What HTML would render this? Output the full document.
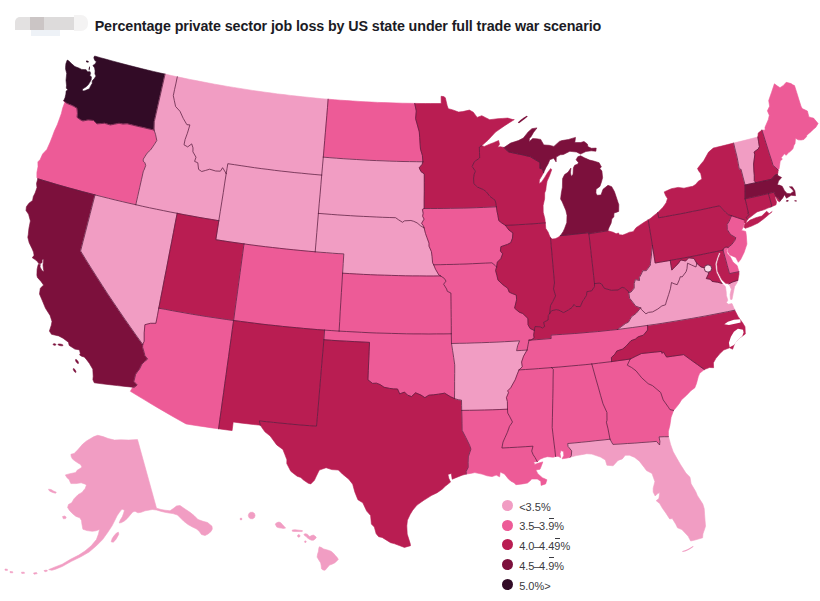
<!DOCTYPE html>
<html lang="en"><head><meta charset="utf-8"><title>Percentage private sector job loss by US state under full trade war scenario</title>
<style>
html,body{margin:0;padding:0;background:#fff}
body{width:820px;height:601px;position:relative;overflow:hidden;font-family:"Liberation Sans",sans-serif}
svg{position:absolute;left:0;top:0}
.s{stroke-width:.6;stroke-linejoin:round}
.b{fill:none;stroke:#5b1d3f;stroke-width:.9;stroke-linejoin:round;stroke-linecap:round;opacity:.85}
h1{position:absolute;left:94.7px;top:17.4px;margin:0;font-size:14.3px;line-height:18px;font-weight:bold;color:#1b1b25;white-space:nowrap;letter-spacing:-.1px}
.blur{position:absolute;left:0;top:0;width:100px;height:40px;filter:blur(.7px)}
.blur u{position:absolute;display:block;text-decoration:none}
.lg{position:absolute;left:502px;top:495.5px;margin:0;padding:0;list-style:none;font-size:11px;color:#3a3a40}
.lg li{height:19.75px;line-height:22.6px;position:relative;padding-left:17.2px;white-space:nowrap}
.lg b{font-weight:normal;margin:0 -.8px}
.lg i{position:absolute;left:0;top:4.4px;width:11px;height:11px;border-radius:50%}
.ov{position:relative}
.ov::before{content:"";position:absolute;left:.5px;right:.5px;top:-2.5px;border-top:1px solid #3a3a40}
</style></head><body>
<div class="blur"><u style="left:74px;top:14.5px;width:14px;height:16px;background:#f4f3f3;border-radius:0 7px 7px 0"></u><u style="left:31px;top:30px;width:29px;height:5.5px;background:#eef2f7"></u><u style="left:14.8px;top:16.8px;width:15.6px;height:13.4px;background:#e3e1e1;border-radius:5px 0 0 0"></u><u style="left:30.2px;top:16.8px;width:14.2px;height:13.4px;background:#cbc5c5"></u><u style="left:44.3px;top:16.8px;width:30.2px;height:13.4px;background:#dddbdb"></u></div>
<h1>Percentage private sector job loss by US state under full trade war scenario</h1>
<svg width="820" height="601" viewBox="0 0 820 601">
<g><path class="s" d="M94.6,56.0 100.4,57.7 106.3,59.3 112.1,60.9 118.0,62.5 123.9,64.1 129.7,65.6 135.6,67.1 141.5,68.6 147.4,70.0 153.3,71.4 159.2,72.8 165.1,74.1 163.3,82.0 161.5,89.9 159.7,97.9 157.9,105.8 156.1,113.8 154.3,121.7 154.1,130.1 148.7,128.9 143.3,127.6 137.9,126.4 132.5,125.1 127.1,123.8 122.9,124.1 119.0,123.3 114.6,124.2 110.3,125.0 104.5,123.3 100.8,123.6 97.0,123.9 93.5,120.5 88.1,120.0 82.9,121.0 80.5,119.9 77.0,117.3 77.4,113.4 76.9,108.3 73.9,106.4 71.5,105.3 66.6,103.3 63.7,100.8 65.0,97.8 65.9,94.1 66.1,91.1 67.9,89.7 66.3,88.2 66.5,85.3 66.0,80.2 66.7,73.4 65.6,69.1 65.6,67.1 65.9,63.8 67.2,60.1 68.6,60.7 71.7,63.8 74.9,66.6 78.6,67.9 81.7,69.4 86.1,69.7 87.5,71.7 90.1,71.7 90.6,73.6 89.8,75.4 91.4,76.8 91.2,79.7 89.8,82.3 88.2,84.8 85.8,87.0 82.5,89.1 82.5,91.1 84.7,90.7 87.0,89.8 89.4,88.7 90.4,86.4 92.2,83.4 92.2,81.0 94.3,78.6 96.0,76.1 94.9,73.9 95.1,70.9 94.6,67.9 92.9,65.4 95.1,64.0 96.4,61.7 94.8,60.4 93.8,57.8 94.6,56.0Z" fill="#320b26" stroke="#320b26"/>
<path class="s" d="M63.7,100.8 66.6,103.3 71.5,105.3 73.9,106.4 76.9,108.3 77.4,113.4 77.0,117.3 80.5,119.9 82.9,121.0 88.1,120.0 93.5,120.5 97.0,123.9 100.8,123.6 104.5,123.3 110.3,125.0 114.6,124.2 119.0,123.3 122.9,124.1 127.1,123.8 132.5,125.1 137.9,126.4 143.3,127.6 148.7,128.9 154.1,130.1 155.5,134.3 156.8,140.5 154.1,144.8 150.6,149.9 147.1,153.1 143.3,159.1 143.2,161.1 144.9,162.8 145.7,165.5 144.0,170.1 143.4,170.9 141.5,179.4 139.6,187.8 137.7,196.3 135.8,204.7 129.0,203.2 122.2,201.6 115.4,200.0 108.6,198.3 101.8,196.6 95.0,194.9 88.6,193.2 82.3,191.6 75.9,189.8 69.5,188.1 63.1,186.3 56.8,184.5 50.5,182.6 44.1,180.7 37.8,178.8 36.9,177.5 36.9,172.5 38.0,166.8 37.9,161.9 40.2,159.4 42.6,154.1 46.9,149.4 50.1,142.3 52.2,136.9 54.4,131.0 57.4,124.5 59.7,118.2 61.3,113.7 62.7,108.1 64.8,102.3 63.7,100.8Z" fill="#ed5b97" stroke="#ed5b97"/>
<path class="s" d="M37.8,178.8 44.1,180.7 50.5,182.6 56.8,184.5 63.1,186.3 69.5,188.1 75.9,189.8 82.3,191.6 88.6,193.2 95.0,194.9 92.6,204.2 90.2,213.6 87.8,222.9 85.4,232.3 83.0,241.6 80.6,251.0 85.8,259.6 91.2,268.2 96.6,276.7 102.1,285.3 107.6,293.8 113.3,302.3 119.0,310.7 124.8,319.2 130.7,327.6 136.6,336.0 142.7,344.4 142.6,347.3 144.2,352.6 144.9,355.6 147.6,359.1 144.6,361.5 142.0,363.9 139.4,369.3 137.9,371.0 135.6,374.4 133.9,381.4 137.2,385.0 134.3,387.3 132.7,387.2 125.0,386.4 117.4,385.6 109.7,384.7 102.0,383.8 94.3,382.8 92.9,379.7 93.2,376.2 92.8,369.2 89.3,363.3 86.8,359.9 84.3,357.0 82.0,356.4 79.6,354.9 80.3,353.4 79.5,349.9 74.8,349.1 69.2,345.4 68.4,342.2 63.0,338.2 58.7,335.9 51.5,334.3 49.4,331.1 51.3,325.2 52.0,321.4 50.1,315.5 45.5,308.3 42.4,300.8 39.5,294.0 40.3,288.2 43.6,285.1 41.0,281.4 37.4,277.4 36.9,275.2 37.1,269.2 38.2,264.5 40.3,264.5 40.0,267.0 42.1,270.7 44.1,271.8 43.4,269.0 43.0,264.9 43.7,259.6 42.1,259.6 42.1,262.6 40.2,263.7 38.7,263.6 37.6,261.7 35.1,259.6 32.3,257.8 34.1,255.3 33.5,252.1 32.1,248.7 29.2,242.8 27.8,237.3 28.3,234.4 28.9,228.5 30.4,220.9 28.6,214.3 26.0,210.5 26.4,206.8 28.9,203.3 32.6,200.4 33.3,196.6 35.1,193.1 37.0,187.6 36.5,183.5 37.8,178.8Z" fill="#7c103c" stroke="#7c103c"/>
<path class="s" d="M95.0,194.9 101.8,196.6 108.6,198.3 115.4,200.0 122.2,201.6 129.0,203.2 135.8,204.7 142.7,206.3 149.6,207.8 156.4,209.2 163.3,210.6 170.2,212.0 177.2,213.3 175.3,222.8 173.5,232.3 171.7,241.8 169.8,251.2 168.0,260.7 166.2,270.2 164.3,279.7 162.5,289.2 160.6,298.7 158.8,308.2 157.4,315.8 155.9,323.3 150.5,323.3 144.9,324.7 144.2,332.9 144.2,341.3 142.7,344.4 136.6,336.0 130.7,327.6 124.8,319.2 119.0,310.7 113.3,302.3 107.6,293.8 102.1,285.3 96.6,276.7 91.2,268.2 85.8,259.6 80.6,251.0 83.0,241.6 85.4,232.3 87.8,222.9 90.2,213.6 92.6,204.2 95.0,194.9Z" fill="#f19dc3" stroke="#f19dc3"/>
<path class="s" d="M165.1,74.1 171.2,75.5 177.3,76.8 176.0,83.1 174.6,89.4 173.3,95.7 174.3,100.4 175.6,106.5 180.0,111.3 183.2,118.3 186.9,124.7 189.9,124.9 187.4,133.2 185.1,139.5 184.0,144.8 187.7,146.9 191.7,143.9 193.0,147.9 192.9,151.8 196.0,157.2 194.6,161.4 197.8,162.8 198.6,169.4 201.7,171.5 205.7,170.4 209.7,169.2 215.6,171.0 220.4,171.2 222.6,167.7 224.6,170.9 226.2,173.7 224.7,183.1 223.3,192.5 221.8,201.9 220.3,211.3 218.8,220.7 211.8,219.5 204.9,218.4 197.9,217.2 191.0,215.9 184.1,214.7 177.2,213.3 170.2,212.0 163.3,210.6 156.4,209.2 149.6,207.8 142.7,206.3 135.8,204.7 137.7,196.3 139.6,187.8 141.5,179.4 143.4,170.9 144.0,170.1 145.7,165.5 144.9,162.8 143.2,161.1 143.3,159.1 147.1,153.1 150.6,149.9 154.1,144.8 156.8,140.5 155.5,134.3 154.1,130.1 154.3,121.7 156.1,113.8 157.9,105.8 159.7,97.9 161.5,89.9 163.3,82.0 165.1,74.1Z" fill="#f19dc3" stroke="#f19dc3"/>
<path class="s" d="M177.3,76.8 183.5,78.1 189.8,79.4 196.0,80.6 202.2,81.8 208.5,83.0 214.7,84.2 221.0,85.3 227.3,86.4 233.5,87.4 239.8,88.4 246.1,89.4 252.4,90.4 258.7,91.3 265.0,92.2 271.3,93.0 277.6,93.9 283.9,94.6 290.2,95.4 296.5,96.1 302.8,96.8 309.2,97.4 315.5,98.1 321.8,98.7 328.1,99.2 327.5,107.4 326.8,115.7 326.1,123.9 325.4,132.2 324.7,140.5 324.0,148.8 323.3,157.1 322.5,166.1 321.7,175.1 314.9,174.5 308.2,173.9 301.5,173.2 294.8,172.6 288.0,171.8 281.3,171.1 274.6,170.3 267.9,169.4 261.2,168.6 254.5,167.7 247.9,166.7 241.2,165.7 234.5,164.7 227.8,163.7 227.0,168.7 226.2,173.7 224.6,170.9 222.6,167.7 220.4,171.2 215.6,171.0 209.7,169.2 205.7,170.4 201.7,171.5 198.6,169.4 197.8,162.8 194.6,161.4 196.0,157.2 192.9,151.8 193.0,147.9 191.7,143.9 187.7,146.9 184.0,144.8 185.1,139.5 187.4,133.2 189.9,124.9 186.9,124.7 183.2,118.3 180.0,111.3 175.6,106.5 174.3,100.4 173.3,95.7 174.6,89.4 176.0,83.1 177.3,76.8Z" fill="#f19dc3" stroke="#f19dc3"/>
<path class="s" d="M226.2,173.7 227.0,168.7 227.8,163.7 234.5,164.7 241.2,165.7 247.9,166.7 254.5,167.7 261.2,168.6 267.9,169.4 274.6,170.3 281.3,171.1 288.0,171.8 294.8,172.6 301.5,173.2 308.2,173.9 314.9,174.5 321.7,175.1 320.9,184.7 320.1,194.2 319.2,203.8 318.4,213.4 317.6,223.0 316.8,232.6 316.0,242.2 315.2,251.8 308.1,251.2 300.9,250.5 293.8,249.8 286.7,249.1 279.6,248.3 272.5,247.5 265.3,246.7 258.2,245.8 251.1,244.9 244.0,243.9 237.0,242.9 229.9,241.9 222.8,240.8 215.8,239.7 217.3,230.2 218.8,220.7 220.3,211.3 221.8,201.9 223.3,192.5 224.7,183.1 226.2,173.7Z" fill="#f19dc3" stroke="#f19dc3"/>
<path class="s" d="M177.2,213.3 184.1,214.7 191.0,215.9 197.9,217.2 204.9,218.4 211.8,219.5 218.8,220.7 217.3,230.2 215.8,239.7 222.8,240.8 229.9,241.9 237.0,242.9 244.0,243.9 242.7,253.5 241.4,263.0 240.1,272.6 238.8,282.2 237.5,291.8 236.2,301.3 234.9,310.9 233.6,320.5 226.7,319.5 219.9,318.5 213.1,317.5 206.3,316.5 199.5,315.4 192.7,314.3 185.9,313.1 179.1,311.9 172.4,310.7 165.6,309.4 158.8,308.2 160.6,298.7 162.5,289.2 164.3,279.7 166.2,270.2 168.0,260.7 169.8,251.2 171.7,241.8 173.5,232.3 175.3,222.8 177.2,213.3Z" fill="#b91d52" stroke="#b91d52"/>
<path class="s" d="M244.0,243.9 251.1,244.9 258.2,245.8 265.3,246.7 272.5,247.5 279.6,248.3 286.7,249.1 293.8,249.8 300.9,250.5 308.1,251.2 315.2,251.8 320.9,252.3 326.6,252.7 332.4,253.2 338.1,253.6 343.8,253.9 343.2,263.6 342.6,273.2 342.0,282.8 341.4,292.5 340.8,302.1 340.2,311.8 339.7,321.4 339.1,331.1 331.8,330.6 324.6,330.1 317.5,329.6 310.5,329.0 303.5,328.4 296.5,327.7 289.5,327.1 282.5,326.4 275.5,325.6 268.5,324.9 261.5,324.1 254.5,323.2 247.5,322.3 240.5,321.4 233.6,320.5 234.9,310.9 236.2,301.3 237.5,291.8 238.8,282.2 240.1,272.6 241.4,263.0 242.7,253.5 244.0,243.9Z" fill="#ed5b97" stroke="#ed5b97"/>
<path class="s" d="M158.8,308.2 165.6,309.4 172.4,310.7 179.1,311.9 185.9,313.1 192.7,314.3 199.5,315.4 206.3,316.5 213.1,317.5 219.9,318.5 226.7,319.5 233.6,320.5 232.3,329.5 231.1,338.6 229.8,347.6 228.6,356.6 227.3,365.7 226.1,374.7 224.8,383.7 223.6,392.8 222.3,401.8 221.1,410.8 219.8,419.8 218.6,428.8 212.0,427.9 205.5,426.9 199.0,426.0 192.5,425.0 186.0,423.9 179.0,420.0 171.9,416.0 164.9,411.9 158.0,407.9 151.0,403.8 144.1,399.6 137.3,395.5 130.4,391.3 132.7,387.2 134.3,387.3 137.2,385.0 133.9,381.4 135.6,374.4 137.9,371.0 139.4,369.3 142.0,363.9 144.6,361.5 147.6,359.1 144.9,355.6 144.2,352.6 142.6,347.3 142.7,344.4 144.2,341.3 144.2,332.9 144.9,324.7 150.5,323.3 155.9,323.3 157.4,315.8 158.8,308.2Z" fill="#ed5b97" stroke="#ed5b97"/>
<path class="s" d="M233.6,320.5 240.5,321.4 247.5,322.3 254.5,323.2 261.5,324.1 268.5,324.9 275.5,325.6 282.5,326.4 289.5,327.1 296.5,327.7 303.5,328.4 310.5,329.0 317.5,329.6 324.6,330.1 323.9,339.7 323.1,349.3 322.2,359.0 321.4,368.6 320.6,378.2 319.8,387.8 319.0,397.4 318.2,407.0 317.4,416.6 316.5,426.2 309.4,425.7 302.2,425.1 295.0,424.5 287.9,423.8 280.7,423.1 273.6,422.4 266.4,421.7 259.3,420.9 260.3,425.2 253.5,424.5 246.7,423.7 240.0,422.9 233.2,422.0 232.1,430.6 225.3,429.7 218.6,428.8 219.8,419.8 221.1,410.8 222.3,401.8 223.6,392.8 224.8,383.7 226.1,374.7 227.3,365.7 228.6,356.6 229.8,347.6 231.1,338.6 232.3,329.5 233.6,320.5Z" fill="#b91d52" stroke="#b91d52"/>
<path class="s" d="M328.1,99.2 334.3,99.7 340.5,100.2 346.7,100.6 352.9,101.0 359.0,101.4 365.2,101.8 371.4,102.1 377.6,102.4 383.8,102.6 390.0,102.8 396.2,103.0 402.4,103.2 408.5,103.3 414.7,103.4 416.3,111.0 415.6,118.6 417.1,123.9 419.3,131.9 419.7,137.6 420.1,143.9 420.5,149.1 422.4,155.4 422.9,161.8 416.3,161.7 409.6,161.6 403.0,161.5 396.3,161.3 389.7,161.1 383.0,160.8 376.4,160.6 369.8,160.3 363.1,159.9 356.5,159.5 349.8,159.1 343.2,158.7 336.6,158.2 329.9,157.7 323.3,157.1 324.0,148.8 324.7,140.5 325.4,132.2 326.1,123.9 326.8,115.7 327.5,107.4 328.1,99.2Z" fill="#ed5b97" stroke="#ed5b97"/>
<path class="s" d="M323.3,157.1 329.9,157.7 336.6,158.2 343.2,158.7 349.8,159.1 356.5,159.5 363.1,159.9 369.8,160.3 376.4,160.6 383.0,160.8 389.7,161.1 396.3,161.3 403.0,161.5 409.6,161.6 416.3,161.7 422.9,161.8 422.1,164.4 419.2,167.8 421.0,171.6 424.3,173.9 424.3,182.6 424.3,191.2 424.2,199.8 424.2,208.5 422.4,209.4 423.2,213.3 422.6,216.2 424.1,219.1 421.6,223.3 423.4,225.8 424.1,227.9 420.6,225.8 417.1,222.9 413.7,221.3 410.9,220.5 404.6,220.8 402.5,222.3 398.4,219.7 395.6,217.7 389.2,217.5 382.7,217.3 376.3,217.0 369.9,216.7 363.4,216.4 357.0,216.1 350.6,215.7 344.1,215.3 337.7,214.9 331.3,214.4 324.9,213.9 318.4,213.4 319.2,203.8 320.1,194.2 320.9,184.7 321.7,175.1 322.5,166.1 323.3,157.1Z" fill="#f19dc3" stroke="#f19dc3"/>
<path class="s" d="M318.4,213.4 324.9,213.9 331.3,214.4 337.7,214.9 344.1,215.3 350.6,215.7 357.0,216.1 363.4,216.4 369.9,216.7 376.3,217.0 382.7,217.3 389.2,217.5 395.6,217.7 398.4,219.7 402.5,222.3 404.6,220.8 410.9,220.5 413.7,221.3 417.1,222.9 420.6,225.8 424.1,227.9 425.5,233.5 426.9,237.4 429.0,243.2 429.0,246.1 431.4,251.6 432.1,256.7 432.6,262.8 433.7,264.8 435.5,269.2 438.9,275.0 440.5,275.9 433.5,276.0 426.5,276.0 419.5,275.9 412.5,275.9 405.5,275.8 398.5,275.6 391.5,275.4 384.5,275.2 377.5,275.0 370.5,274.7 363.5,274.4 356.6,274.0 349.6,273.6 342.6,273.2 343.2,263.6 343.8,253.9 338.1,253.6 332.4,253.2 326.6,252.7 320.9,252.3 315.2,251.8 316.0,242.2 316.8,232.6 317.6,223.0 318.4,213.4Z" fill="#f19dc3" stroke="#f19dc3"/>
<path class="s" d="M342.6,273.2 349.6,273.6 356.6,274.0 363.5,274.4 370.5,274.7 377.5,275.0 384.5,275.2 391.5,275.4 398.5,275.6 405.5,275.8 412.5,275.9 419.5,275.9 426.5,276.0 433.5,276.0 440.5,275.9 444.3,278.4 446.0,281.1 443.6,284.2 446.6,289.0 447.3,291.3 450.9,293.0 451.0,301.2 451.1,309.3 451.2,317.5 451.3,325.6 451.3,333.8 443.9,333.9 436.4,333.9 428.9,334.0 421.4,333.9 413.9,333.9 406.4,333.8 398.9,333.6 391.4,333.4 384.0,333.2 376.5,333.0 369.0,332.7 361.5,332.3 354.0,331.9 346.5,331.5 339.1,331.1 339.7,321.4 340.2,311.8 340.8,302.1 341.4,292.5 342.0,282.8 342.6,273.2Z" fill="#ed5b97" stroke="#ed5b97"/>
<path class="s" d="M324.6,330.1 331.8,330.6 339.1,331.1 346.5,331.5 354.0,331.9 361.5,332.3 369.0,332.7 376.5,333.0 384.0,333.2 391.4,333.4 398.9,333.6 406.4,333.8 413.9,333.9 421.4,333.9 428.9,334.0 436.4,333.9 443.9,333.9 451.3,333.8 451.5,343.5 452.6,350.6 453.7,357.7 454.7,364.8 454.7,373.3 454.6,381.7 454.6,390.2 454.5,398.6 450.2,396.6 444.7,393.2 438.4,394.2 433.6,394.8 428.9,395.2 424.9,397.7 421.0,395.1 415.5,392.8 411.5,396.6 407.6,395.2 404.5,392.1 399.7,393.9 397.5,389.0 393.5,388.9 389.6,388.4 384.1,387.3 380.3,384.7 376.4,383.2 372.5,383.4 367.9,379.8 368.3,370.4 368.7,361.1 369.1,351.7 369.5,342.4 361.9,342.0 354.3,341.6 346.7,341.2 339.1,340.8 331.5,340.3 323.9,339.7 324.6,330.1Z" fill="#ed5b97" stroke="#ed5b97"/>
<path class="s" d="M323.9,339.7 331.5,340.3 339.1,340.8 346.7,341.2 354.3,341.6 361.9,342.0 369.5,342.4 369.1,351.7 368.7,361.1 368.3,370.4 367.9,379.8 372.5,383.4 376.4,383.2 380.3,384.7 384.1,387.3 389.6,388.4 393.5,388.9 397.5,389.0 399.7,393.9 404.5,392.1 407.6,395.2 411.5,396.6 415.5,392.8 421.0,395.1 424.9,397.7 428.9,395.2 433.6,394.8 438.4,394.2 444.7,393.2 450.2,396.6 454.5,398.6 458.2,399.7 461.5,400.2 461.6,405.3 461.7,410.4 461.9,417.0 462.0,423.7 462.1,430.3 465.9,437.7 469.6,445.3 470.9,449.1 468.3,456.8 468.1,462.6 468.2,467.4 466.2,471.3 466.2,474.1 462.1,475.2 457.1,477.2 452.2,479.2 451.3,473.4 447.9,474.4 448.8,478.3 450.5,482.1 445.2,486.3 442.2,489.2 437.2,492.7 431.3,495.6 423.8,500.3 417.0,505.1 412.7,510.2 410.1,514.5 407.4,520.2 406.8,525.9 407.2,534.1 410.2,543.6 410.5,545.7 404.4,547.4 399.3,545.5 394.1,543.6 390.6,542.7 382.1,537.4 378.7,536.7 376.2,533.8 374.3,527.0 371.4,524.1 370.6,515.5 366.7,511.1 362.8,502.8 357.9,499.7 354.8,491.9 352.7,484.2 348.8,479.2 342.4,474.0 338.4,470.0 331.8,469.6 326.1,467.7 319.3,470.1 316.3,476.2 314.4,480.3 310.8,483.9 308.3,483.3 303.5,480.0 300.8,477.5 297.1,476.2 290.8,471.3 286.8,463.6 286.9,459.8 284.9,454.6 282.9,449.4 276.7,444.9 270.2,436.0 264.9,431.8 260.3,425.2 259.3,420.9 266.4,421.7 273.6,422.4 280.7,423.1 287.9,423.8 295.0,424.5 302.2,425.1 309.4,425.7 316.5,426.2 317.4,416.6 318.2,407.0 319.0,397.4 319.8,387.8 320.6,378.2 321.4,368.6 322.2,359.0 323.1,349.3 323.9,339.7Z" fill="#b91d52" stroke="#b91d52"/>
<path class="s" d="M414.7,103.4 420.0,103.5 425.3,103.5 430.6,103.5 435.9,103.5 441.2,103.5 441.1,96.3 443.7,96.6 445.3,97.7 447.2,105.7 448.3,108.7 452.8,109.9 458.6,112.1 462.8,111.6 466.1,110.8 469.4,110.1 473.3,112.2 477.1,117.4 481.8,115.7 485.7,117.7 489.7,119.7 493.9,119.2 498.0,118.7 502.9,118.4 507.7,118.1 513.0,119.6 514.3,119.6 509.3,122.7 504.3,125.9 499.9,129.0 495.5,132.1 491.8,136.1 488.1,140.1 481.7,145.7 479.3,147.0 479.5,152.5 479.7,158.0 474.4,161.7 472.2,166.5 475.4,171.2 474.2,174.1 473.6,178.0 473.8,183.7 477.6,187.1 483.6,189.7 486.4,191.9 490.0,196.5 495.0,200.1 495.8,203.0 496.4,206.8 489.9,207.1 483.3,207.4 476.8,207.7 470.2,207.9 463.6,208.1 457.0,208.2 450.5,208.3 443.9,208.4 437.3,208.5 430.8,208.5 424.2,208.5 424.2,199.8 424.3,191.2 424.3,182.6 424.3,173.9 421.0,171.6 419.2,167.8 422.1,164.4 422.9,161.8 422.4,155.4 420.5,149.1 420.1,143.9 419.7,137.6 419.3,131.9 417.1,123.9 415.6,118.6 416.3,111.0 414.7,103.4Z" fill="#b91d52" stroke="#b91d52"/>
<path class="s" d="M424.2,208.5 430.8,208.5 437.3,208.5 443.9,208.4 450.5,208.3 457.0,208.2 463.6,208.1 470.2,207.9 476.8,207.7 483.3,207.4 489.9,207.1 496.4,206.8 496.9,210.6 497.9,215.4 498.8,220.6 501.7,222.9 505.5,225.4 508.9,230.0 512.9,232.9 512.5,238.1 510.8,242.7 507.5,244.4 500.9,246.7 500.4,251.0 502.7,253.8 500.8,258.7 497.4,262.1 496.6,267.0 495.4,265.7 491.9,262.8 485.5,263.1 479.0,263.4 472.5,263.7 466.1,264.0 459.6,264.2 453.2,264.4 446.7,264.5 440.2,264.7 433.7,264.8 432.6,262.8 432.1,256.7 431.4,251.6 429.0,246.1 429.0,243.2 426.9,237.4 425.5,233.5 424.1,227.9 423.4,225.8 421.6,223.3 424.1,219.1 422.6,216.2 423.2,213.3 422.4,209.4 424.2,208.5Z" fill="#ed5b97" stroke="#ed5b97"/>
<path class="s" d="M433.7,264.8 440.2,264.7 446.7,264.5 453.2,264.4 459.6,264.2 466.1,264.0 472.5,263.7 479.0,263.4 485.5,263.1 491.9,262.8 495.4,265.7 496.6,267.0 495.6,270.5 497.0,275.7 498.0,280.1 502.9,284.7 507.8,288.3 509.2,292.1 512.2,293.5 516.3,295.0 516.6,299.8 514.6,308.2 519.3,312.2 522.8,313.5 527.9,318.4 528.1,324.8 530.2,328.5 534.4,330.5 533.7,335.1 534.2,337.9 531.0,340.1 529.0,340.2 528.2,344.2 527.1,350.0 521.8,350.4 516.6,350.7 517.6,345.8 519.6,340.8 512.0,341.3 504.4,341.7 496.9,342.1 489.3,342.4 481.8,342.7 474.2,342.9 466.6,343.2 459.1,343.3 451.5,343.5 451.3,333.8 451.3,325.6 451.2,317.5 451.1,309.3 451.0,301.2 450.9,293.0 447.3,291.3 446.6,289.0 443.6,284.2 446.0,281.1 444.3,278.4 440.5,275.9 438.9,275.0 435.5,269.2 433.7,264.8Z" fill="#ed5b97" stroke="#ed5b97"/>
<path class="s" d="M451.5,343.5 459.1,343.3 466.6,343.2 474.2,342.9 481.8,342.7 489.3,342.4 496.9,342.1 504.4,341.7 512.0,341.3 519.6,340.8 517.6,345.8 516.6,350.7 521.8,350.4 527.1,350.0 523.6,356.1 521.6,362.0 522.3,366.8 519.0,369.9 517.0,374.9 515.2,379.8 510.7,387.8 507.7,390.8 508.5,392.7 506.4,397.7 507.4,401.5 507.5,409.2 499.9,409.5 492.2,409.8 484.6,410.0 477.0,410.2 469.4,410.3 461.7,410.4 461.6,405.3 461.5,400.2 458.2,399.7 454.5,398.6 454.6,390.2 454.6,381.7 454.7,373.3 454.7,364.8 453.7,357.7 452.6,350.6 451.5,343.5Z" fill="#f19dc3" stroke="#f19dc3"/>
<path class="s" d="M461.7,410.4 469.4,410.3 477.0,410.2 484.6,410.0 492.2,409.8 499.9,409.5 507.5,409.2 507.7,413.0 509.8,416.8 512.5,422.0 509.5,426.4 507.4,432.3 505.2,437.2 503.0,442.1 501.9,448.0 509.7,447.6 517.5,447.2 525.2,446.7 533.0,446.2 531.7,451.1 533.2,454.8 535.1,457.6 537.3,461.7 533.7,461.9 534.7,464.4 538.7,463.1 542.8,461.9 541.4,465.8 540.0,469.2 535.9,470.0 537.8,473.7 542.3,477.7 546.9,479.8 545.6,483.9 541.1,485.4 540.8,481.2 537.3,479.0 531.5,479.0 530.7,480.3 527.5,483.0 522.6,483.9 515.9,484.7 514.1,482.8 510.7,481.1 508.0,478.4 504.5,474.1 500.2,472.0 499.6,476.8 496.2,475.1 492.1,476.6 487.1,475.8 482.0,474.1 474.8,472.6 470.5,473.4 466.2,474.1 466.2,471.3 468.2,467.4 468.1,462.6 468.3,456.8 470.9,449.1 469.6,445.3 465.9,437.7 462.1,430.3 462.0,423.7 461.9,417.0 461.7,410.4Z" fill="#ed5b97" stroke="#ed5b97"/>
<path class="s" d="M481.7,145.7 484.4,146.4 489.6,144.2 493.5,142.7 498.6,140.5 499.5,144.3 497.7,147.3 500.3,146.7 504.0,147.5 508.3,151.8 512.8,152.8 517.4,153.8 522.0,154.7 526.1,155.7 530.2,156.6 535.8,160.0 540.0,162.5 539.9,168.3 542.6,169.0 543.6,172.7 541.9,175.8 539.5,179.8 539.1,183.7 541.7,181.9 544.7,177.4 547.7,172.4 550.7,168.6 551.7,169.7 549.4,176.1 547.1,181.1 546.2,186.0 545.8,189.9 544.7,192.9 544.6,198.7 543.1,205.5 543.2,212.3 544.9,218.9 545.3,222.9 538.7,223.4 532.0,223.9 525.4,224.3 518.8,224.7 512.2,225.1 505.5,225.4 501.7,222.9 498.8,220.6 497.9,215.4 496.9,210.6 496.4,206.8 495.8,203.0 495.0,200.1 490.0,196.5 486.4,191.9 483.6,189.7 477.6,187.1 473.8,183.7 473.6,178.0 474.2,174.1 475.4,171.2 472.2,166.5 474.4,161.7 479.7,158.0 479.5,152.5 479.3,147.0 481.7,145.7Z" fill="#b91d52" stroke="#b91d52"/>
<path class="s" d="M505.5,225.4 512.2,225.1 518.8,224.7 525.4,224.3 532.0,223.9 538.7,223.4 545.3,222.9 545.8,228.5 548.2,232.2 549.2,235.0 550.5,237.8 551.3,246.8 552.1,255.8 552.9,264.9 553.7,273.9 554.5,283.0 553.5,288.9 555.6,295.9 552.8,301.5 550.5,305.6 549.7,313.4 548.3,315.5 548.1,320.0 543.6,322.3 544.7,326.5 542.3,328.0 540.2,326.8 534.9,326.6 534.4,330.5 530.2,328.5 528.1,324.8 527.9,318.4 522.8,313.5 519.3,312.2 514.6,308.2 516.6,299.8 516.3,295.0 512.2,293.5 509.2,292.1 507.8,288.3 502.9,284.7 498.0,280.1 497.0,275.7 495.6,270.5 496.6,267.0 497.4,262.1 500.8,258.7 502.7,253.8 500.4,251.0 500.9,246.7 507.5,244.4 510.8,242.7 512.5,238.1 512.9,232.9 508.9,230.0 505.5,225.4Z" fill="#b91d52" stroke="#b91d52"/>
<path class="s" d="M550.5,237.8 552.4,239.0 555.2,238.7 557.9,237.5 560.3,235.7 566.0,235.1 571.7,234.5 577.4,233.9 583.1,233.3 588.8,232.6 588.9,233.8 589.9,242.1 590.8,250.4 591.7,258.7 592.7,267.0 593.6,275.3 594.5,283.6 594.5,286.6 591.7,290.8 586.9,291.7 586.5,295.3 584.0,299.4 582.7,301.1 580.3,306.6 575.8,306.5 574.0,304.4 572.1,307.5 568.6,309.8 563.6,312.6 558.8,310.1 556.2,309.6 551.4,310.8 549.7,313.4 550.5,305.6 552.8,301.5 555.6,295.9 553.5,288.9 554.5,283.0 553.7,273.9 552.9,264.9 552.1,255.8 551.3,246.8 550.5,237.8Z" fill="#b91d52" stroke="#b91d52"/>
<path class="s" d="M504.0,147.5 507.3,145.3 510.6,143.1 514.5,141.8 518.4,140.6 523.4,138.0 528.2,131.9 531.9,128.7 537.0,127.9 533.5,132.4 531.2,136.4 529.4,138.5 529.2,141.7 532.7,138.6 536.7,138.8 540.7,139.4 543.8,144.9 549.2,145.3 553.9,146.4 559.4,141.4 561.9,140.6 568.4,139.5 572.0,138.4 575.5,137.4 574.8,142.6 580.8,142.5 584.0,141.5 587.3,144.0 588.0,146.8 591.5,148.3 596.2,148.1 595.9,151.2 591.2,150.8 585.9,151.5 580.5,154.1 576.5,152.0 569.8,151.3 563.4,154.5 560.1,154.8 556.3,157.1 556.1,161.9 553.7,158.3 549.8,159.7 548.2,163.7 545.9,167.7 543.6,172.7 542.6,169.0 539.9,168.3 540.0,162.5 535.8,160.0 530.2,156.6 526.1,155.7 522.0,154.7 517.4,153.8 512.8,152.8 508.3,151.8 504.0,147.5Z M560.3,235.7 563.1,231.7 564.5,228.7 566.8,222.6 567.0,215.3 565.8,210.2 564.3,206.8 562.2,201.8 560.6,199.1 561.3,193.2 562.4,187.3 562.6,178.6 564.6,174.6 568.0,172.3 570.9,168.1 570.5,172.9 571.2,176.3 573.0,174.6 573.4,167.8 574.7,165.3 577.9,164.0 578.4,162.4 576.1,159.8 577.8,156.7 580.6,155.8 584.4,157.8 589.6,160.1 593.8,161.1 599.1,162.7 601.4,167.0 599.8,168.4 601.9,171.0 602.6,177.7 601.4,182.1 599.9,186.4 596.1,189.2 595.9,193.1 597.1,195.3 601.0,195.0 603.0,189.3 608.0,185.3 611.7,186.7 614.4,191.6 616.1,196.6 618.1,202.7 618.8,204.6 618.7,211.4 616.0,212.4 614.0,213.0 613.8,217.0 611.9,218.8 611.1,223.2 609.1,227.3 607.8,230.8 601.5,231.8 595.2,232.8 588.9,233.8 588.8,232.6 583.1,233.3 577.4,233.9 571.7,234.5 566.0,235.1 560.3,235.7Z" fill="#7c103c" stroke="#7c103c"/>
<path class="s" d="M588.9,233.8 595.2,232.8 601.5,231.8 607.8,230.8 613.1,232.2 616.1,233.8 618.6,233.0 619.1,234.7 622.8,235.1 626.2,233.7 629.6,232.2 633.1,231.7 636.1,227.7 638.7,225.9 644.5,222.1 648.2,219.9 649.6,228.4 651.0,236.9 652.4,245.4 651.8,250.8 651.3,256.8 650.4,263.2 650.4,265.1 646.4,270.6 642.7,270.8 641.4,274.0 639.3,277.6 639.5,280.5 635.4,279.6 634.2,283.3 634.2,288.1 631.0,292.1 628.8,292.4 628.3,291.3 624.4,288.0 622.1,287.3 618.0,290.0 611.3,290.3 604.3,288.3 601.5,283.8 599.2,283.1 594.5,283.6 593.6,275.3 592.7,267.0 591.7,258.7 590.8,250.4 589.9,242.1 588.9,233.8Z" fill="#b91d52" stroke="#b91d52"/>
<path class="s" d="M534.4,330.5 534.9,326.6 540.2,326.8 542.3,328.0 544.7,326.5 543.6,322.3 548.1,320.0 548.3,315.5 549.7,313.4 551.4,310.8 556.2,309.6 558.8,310.1 563.6,312.6 568.6,309.8 572.1,307.5 574.0,304.4 575.8,306.5 580.3,306.6 582.7,301.1 584.0,299.4 586.5,295.3 586.9,291.7 591.7,290.8 594.5,286.6 594.5,283.6 599.2,283.1 601.5,283.8 604.3,288.3 611.3,290.3 618.0,290.0 622.1,287.3 624.4,288.0 628.3,291.3 628.8,292.4 629.6,298.2 633.3,302.9 635.6,306.1 640.6,307.9 636.3,313.2 631.5,316.8 628.4,322.2 625.5,323.5 621.5,326.5 617.5,329.5 610.8,330.2 604.2,330.9 597.5,331.6 589.9,332.2 582.3,332.9 574.7,333.5 568.8,333.9 562.8,334.3 556.8,334.7 550.9,335.1 551.2,338.5 543.8,339.1 536.4,339.7 529.0,340.2 531.0,340.1 534.2,337.9 533.7,335.1 534.4,330.5Z" fill="#b91d52" stroke="#b91d52"/>
<path class="s" d="M529.0,340.2 536.4,339.7 543.8,339.1 551.2,338.5 550.9,335.1 556.8,334.7 562.8,334.3 568.8,333.9 574.7,333.5 582.3,332.9 589.9,332.2 597.5,331.6 604.2,330.9 610.8,330.2 617.5,329.5 625.1,328.5 632.6,327.5 640.1,326.5 647.6,325.4 647.6,330.1 643.4,335.2 638.2,336.8 635.4,339.1 631.0,340.7 626.3,345.9 622.8,349.0 616.8,351.0 614.9,354.2 611.4,357.5 611.6,361.6 605.0,362.4 598.4,363.2 591.8,364.0 585.1,364.7 578.4,365.3 571.7,365.9 565.0,366.5 558.3,367.1 551.6,367.6 545.1,368.1 538.6,368.6 532.1,369.1 525.5,369.5 519.0,369.9 522.3,366.8 521.6,362.0 523.6,356.1 527.1,350.0 528.2,344.2 529.0,340.2Z" fill="#ed5b97" stroke="#ed5b97"/>
<path class="s" d="M519.0,369.9 525.5,369.5 532.1,369.1 538.6,368.6 545.1,368.1 551.6,367.6 553.3,369.4 553.1,379.1 553.0,388.8 552.8,398.4 552.6,408.1 552.4,417.8 552.2,427.5 553.0,434.7 553.9,442.0 554.8,449.2 555.6,456.5 553.2,457.2 547.4,456.7 544.1,457.5 540.1,459.2 537.3,461.7 535.1,457.6 533.2,454.8 531.7,451.1 533.0,446.2 525.2,446.7 517.5,447.2 509.7,447.6 501.9,448.0 503.0,442.1 505.2,437.2 507.4,432.3 509.5,426.4 512.5,422.0 509.8,416.8 507.7,413.0 507.5,409.2 507.4,401.5 506.4,397.7 508.5,392.7 507.7,390.8 510.7,387.8 515.2,379.8 517.0,374.9 519.0,369.9Z" fill="#ed5b97" stroke="#ed5b97"/>
<path class="s" d="M551.6,367.6 558.3,367.1 565.0,366.5 571.7,365.9 578.4,365.3 585.1,364.7 591.8,364.0 594.0,372.0 596.2,379.9 598.5,387.9 600.7,395.8 603.0,403.8 606.9,412.4 607.0,420.2 606.4,422.2 608.0,428.8 609.0,434.0 610.0,439.2 603.0,440.0 595.9,440.7 588.9,441.5 581.8,442.2 574.8,442.9 567.7,443.5 568.0,446.4 571.7,450.9 571.3,455.7 570.2,457.2 567.3,458.0 562.1,458.8 563.8,455.4 563.5,451.6 560.9,450.5 560.0,453.8 560.7,457.6 558.1,456.3 555.6,456.5 554.8,449.2 553.9,442.0 553.0,434.7 552.2,427.5 552.4,417.8 552.6,408.1 552.8,398.4 553.0,388.8 553.1,379.1 553.3,369.4 551.6,367.6Z" fill="#ed5b97" stroke="#ed5b97"/>
<path class="s" d="M591.8,364.0 598.4,363.2 605.0,362.4 611.6,361.6 617.8,360.7 624.0,359.9 630.2,359.0 627.3,365.2 631.6,367.5 636.0,370.8 641.7,377.8 648.2,383.7 652.5,385.6 660.7,392.5 663.2,399.9 668.8,407.8 669.9,409.6 673.6,410.4 671.1,417.2 669.9,425.2 668.4,431.2 668.4,436.7 664.2,436.7 659.0,436.9 659.9,441.3 659.6,445.0 656.5,441.4 649.2,442.0 641.9,442.5 634.7,443.1 627.4,443.5 620.2,444.0 612.9,444.4 610.0,439.2 609.0,434.0 608.0,428.8 606.4,422.2 607.0,420.2 606.9,412.4 603.0,403.8 600.7,395.8 598.5,387.9 596.2,379.9 594.0,372.0 591.8,364.0Z" fill="#ed5b97" stroke="#ed5b97"/>
<path class="s" d="M610.0,439.2 612.9,444.4 620.2,444.0 627.4,443.5 634.7,443.1 641.9,442.5 649.2,442.0 656.5,441.4 659.6,445.0 659.9,441.3 659.0,436.9 664.2,436.7 668.4,436.7 668.9,438.0 670.6,444.5 673.2,451.8 676.7,458.1 680.3,464.3 685.9,473.1 690.0,477.2 691.1,483.8 695.8,491.7 697.3,495.4 702.8,504.1 704.2,508.7 704.6,514.4 705.0,520.1 705.5,526.3 704.7,528.8 702.9,533.9 702.6,537.8 695.0,540.0 690.7,541.0 688.2,536.3 681.9,529.6 677.5,527.8 675.8,524.2 672.3,518.6 669.7,518.9 666.3,513.7 662.0,507.6 659.7,503.5 656.2,500.7 658.9,498.4 659.8,492.5 657.4,493.8 655.2,496.0 653.2,492.1 653.2,488.2 654.9,481.6 652.0,473.4 646.5,470.6 644.4,467.7 639.4,461.2 634.7,457.4 629.4,455.2 625.2,455.3 622.3,458.9 618.0,460.4 613.1,465.8 606.9,465.2 605.4,460.0 600.4,457.0 591.8,454.1 586.8,453.7 581.5,454.7 576.2,455.6 570.2,457.2 571.3,455.7 571.7,450.9 568.0,446.4 567.7,443.5 574.8,442.9 581.8,442.2 588.9,441.5 595.9,440.7 603.0,440.0 610.0,439.2Z" fill="#f19dc3" stroke="#f19dc3"/>
<path class="s" d="M630.2,359.0 635.8,356.2 641.4,353.5 648.1,352.8 654.8,352.1 661.5,351.4 661.9,353.3 663.5,352.1 666.6,357.0 672.3,356.2 678.0,355.4 683.7,354.6 690.5,359.6 697.4,364.5 704.3,369.5 699.7,373.3 698.3,376.5 696.4,383.7 694.7,387.9 691.1,390.5 686.6,395.2 681.4,399.9 679.5,403.2 676.1,407.6 673.6,410.4 669.9,409.6 668.8,407.8 663.2,399.9 660.7,392.5 652.5,385.6 648.2,383.7 641.7,377.8 636.0,370.8 631.6,367.5 627.3,365.2 630.2,359.0Z" fill="#ed5b97" stroke="#ed5b97"/>
<path class="s" d="M647.6,325.4 654.9,324.4 662.2,323.3 669.5,322.1 676.8,320.9 684.0,319.7 691.3,318.5 698.6,317.2 705.8,315.9 713.1,314.5 720.3,313.1 727.5,311.7 734.8,310.2 738.0,316.4 742.9,323.3 745.0,326.8 745.3,334.0 738.8,338.6 734.9,342.8 732.6,349.2 729.6,347.8 723.7,350.0 719.7,353.8 715.8,358.5 713.4,362.8 713.6,367.7 709.5,367.5 704.3,369.5 697.4,364.5 690.5,359.6 683.7,354.6 678.0,355.4 672.3,356.2 666.6,357.0 663.5,352.1 661.9,353.3 661.5,351.4 654.8,352.1 648.1,352.8 641.4,353.5 635.8,356.2 630.2,359.0 624.0,359.9 617.8,360.7 611.6,361.6 611.4,357.5 614.9,354.2 616.8,351.0 622.8,349.0 626.3,345.9 631.0,340.7 635.4,339.1 638.2,336.8 643.4,335.2 647.6,330.1 647.6,325.4Z" fill="#b91d52" stroke="#b91d52"/>
<path class="s" d="M617.5,329.5 621.5,326.5 625.5,323.5 628.4,322.2 631.5,316.8 636.3,313.2 640.6,307.9 641.4,309.5 645.9,313.8 648.4,312.4 652.6,311.9 657.8,309.0 661.9,305.9 665.5,304.8 666.2,302.1 668.7,294.4 670.4,288.8 671.5,282.5 674.0,283.7 677.2,284.7 679.3,279.8 680.3,276.7 682.2,276.9 686.1,271.7 687.0,268.6 687.5,263.2 691.7,265.1 696.0,267.0 696.8,263.3 700.9,266.9 704.9,268.0 707.0,269.0 708.7,271.2 708.4,274.2 706.3,278.6 710.2,279.2 712.1,281.4 717.6,282.2 722.1,283.4 725.4,286.6 726.2,291.7 726.4,295.6 727.8,300.2 726.3,302.8 728.6,304.2 732.0,303.6 734.8,310.2 727.5,311.7 720.3,313.1 713.1,314.5 705.8,315.9 698.6,317.2 691.3,318.5 684.0,319.7 676.8,320.9 669.5,322.1 662.2,323.3 654.9,324.4 647.6,325.4 640.1,326.5 632.6,327.5 625.1,328.5 617.5,329.5Z M728.9,283.8 731.3,289.2 730.1,294.4 730.4,299.3 732.0,299.5 733.1,293.8 734.6,286.5 736.9,283.0 737.9,280.2 732.5,282.0 728.9,283.8Z" fill="#f19dc3" stroke="#f19dc3"/>
<path class="s" d="M652.4,245.4 651.8,250.8 651.3,256.8 650.4,263.2 650.4,265.1 646.4,270.6 642.7,270.8 641.4,274.0 639.3,277.6 639.5,280.5 635.4,279.6 634.2,283.3 634.2,288.1 631.0,292.1 628.8,292.4 629.6,298.2 633.3,302.9 635.6,306.1 640.6,307.9 641.4,309.5 645.9,313.8 648.4,312.4 652.6,311.9 657.8,309.0 661.9,305.9 665.5,304.8 666.2,302.1 668.7,294.4 670.4,288.8 671.5,282.5 674.0,283.7 677.2,284.7 679.3,279.8 680.3,276.7 682.2,276.9 686.1,271.7 687.0,268.6 687.5,263.2 691.7,265.1 696.0,267.0 696.8,263.3 694.0,258.4 688.7,257.8 685.6,261.0 680.8,259.9 677.9,263.9 674.8,266.9 671.8,270.1 671.0,265.3 670.2,260.4 665.2,261.3 660.2,262.1 655.2,263.0 653.8,254.2 652.4,245.4Z" fill="#f19dc3" stroke="#f19dc3"/>
<path class="s" d="M723.0,250.1 716.4,251.5 709.8,252.8 703.3,254.2 696.7,255.5 690.0,256.8 683.4,258.0 676.8,259.2 670.2,260.4 671.0,265.3 671.8,270.1 674.8,266.9 677.9,263.9 680.8,259.9 685.6,261.0 688.7,257.8 694.0,258.4 696.8,263.3 700.9,266.9 704.9,268.0 707.0,269.0 708.7,271.2 708.4,274.2 706.3,278.6 710.2,279.2 712.1,281.4 717.6,282.2 722.1,283.4 720.2,280.3 716.3,272.2 715.2,264.0 717.2,257.5 718.7,253.5 719.5,252.8 720.4,253.6 718.6,258.0 716.9,264.0 717.8,271.8 721.8,279.6 725.6,283.3 728.9,283.8 732.5,282.0 737.9,280.2 739.0,274.1 738.9,271.7 734.2,272.6 729.5,273.6 727.3,265.7 725.2,257.9 723.0,250.1Z" fill="#b91d52" stroke="#b91d52"/>
<path class="s" d="M723.0,250.1 725.2,257.9 727.3,265.7 729.5,273.6 734.2,272.6 738.9,271.7 737.6,267.0 737.1,265.6 733.0,262.1 730.3,256.8 727.3,253.5 726.7,250.6 728.1,247.4 726.7,247.1 725.2,247.3 723.7,248.3 723.0,250.1Z" fill="#ed5b97" stroke="#ed5b97"/>
<path class="s" d="M648.2,219.9 651.0,218.1 653.7,215.7 657.8,212.6 658.7,217.8 665.5,216.6 672.3,215.3 679.1,214.1 685.8,212.8 692.6,211.4 699.4,210.1 706.1,208.7 712.9,207.2 719.6,205.8 721.4,207.9 725.6,212.3 728.3,214.7 731.5,215.7 729.1,221.4 727.1,224.4 727.3,229.7 730.6,234.6 735.8,237.7 734.9,240.3 731.7,244.6 728.1,247.4 726.7,247.1 725.2,247.3 723.7,248.3 723.0,250.1 716.4,251.5 709.8,252.8 703.3,254.2 696.7,255.5 690.0,256.8 683.4,258.0 676.8,259.2 670.2,260.4 665.2,261.3 660.2,262.1 655.2,263.0 653.8,254.2 652.4,245.4 651.0,236.9 649.6,228.4 648.2,219.9Z" fill="#b91d52" stroke="#b91d52"/>
<path class="s" d="M731.5,215.7 737.8,217.8 744.2,219.9 744.4,223.8 743.5,226.4 741.5,230.5 743.8,230.9 745.7,231.5 746.3,235.3 746.9,244.1 744.1,252.5 740.7,259.4 738.3,262.3 735.8,257.5 729.9,254.9 727.6,251.4 728.1,247.4 731.7,244.6 734.9,240.3 735.8,237.7 730.6,234.6 727.3,229.7 727.1,224.4 729.1,221.4 731.5,215.7Z" fill="#ed5b97" stroke="#ed5b97"/>
<path class="s" d="M657.8,212.6 663.0,207.2 666.2,202.7 667.5,198.6 665.6,195.6 664.2,191.9 667.8,190.3 671.4,188.7 678.2,187.4 684.0,188.2 689.4,186.9 692.8,186.3 695.9,184.2 698.1,181.4 701.9,179.1 700.7,173.4 698.7,170.9 697.5,168.6 701.4,163.5 703.6,161.0 708.6,152.1 713.3,148.1 715.6,147.5 721.6,146.1 727.6,144.6 733.6,143.1 735.3,150.2 737.1,157.3 738.2,163.2 739.3,169.2 741.0,169.2 743.0,177.1 745.1,185.0 745.1,191.9 745.1,198.9 746.8,205.9 748.4,213.0 747.7,213.1 749.1,214.6 746.1,217.5 747.6,219.3 746.4,221.8 745.8,223.5 744.4,222.8 744.2,219.9 737.8,217.8 731.5,215.7 728.3,214.7 725.6,212.3 721.4,207.9 719.6,205.8 712.9,207.2 706.1,208.7 699.4,210.1 692.6,211.4 685.8,212.8 679.1,214.1 672.3,215.3 665.5,216.6 658.7,217.8 657.8,212.6Z M744.0,227.3 745.0,228.3 746.8,227.8 751.6,226.1 758.2,222.9 761.5,220.5 764.7,218.1 768.5,214.8 772.2,211.6 769.2,213.7 766.7,211.2 761.8,216.0 755.9,217.7 750.1,220.1 747.0,222.6 744.8,224.2Z" fill="#b91d52" stroke="#b91d52"/>
<path class="s" d="M757.9,137.0 751.8,138.5 745.7,140.1 739.7,141.6 733.6,143.1 735.3,150.2 737.1,157.3 738.2,163.2 739.3,169.2 741.0,169.2 743.0,177.1 745.1,185.0 750.6,183.8 756.0,182.7 754.3,180.7 754.3,175.2 753.9,170.9 753.6,164.0 754.8,154.8 754.1,152.0 758.2,149.0 759.4,146.7 758.6,141.8 757.9,137.0Z" fill="#f19dc3" stroke="#f19dc3"/>
<path class="s" d="M761.9,130.1 758.2,133.1 757.9,137.0 758.6,141.8 759.4,146.7 758.2,149.0 754.1,152.0 754.8,154.8 753.6,164.0 753.9,170.9 754.3,175.2 754.3,180.7 756.0,182.7 761.3,181.5 766.6,180.4 771.9,179.2 772.4,178.2 775.1,175.1 777.5,174.3 778.0,172.5 778.1,170.1 775.7,167.6 773.0,165.5 772.0,161.8 769.4,153.9 766.9,146.0 764.4,138.0 761.9,130.1Z" fill="#b91d52" stroke="#b91d52"/>
<path class="s" d="M778.1,170.1 779.1,168.6 779.8,164.1 780.2,160.9 782.3,159.2 781.2,157.7 784.4,153.8 786.2,155.3 788.6,152.6 790.2,151.6 792.9,148.8 794.0,145.0 795.0,143.7 795.5,138.2 798.2,139.8 801.0,140.0 803.8,139.5 806.5,136.7 806.8,135.2 811.3,131.4 813.4,129.2 815.7,127.4 818.1,123.5 816.9,122.1 813.5,118.1 811.8,117.8 808.9,116.9 807.4,111.0 802.2,108.6 801.0,106.2 798.8,99.3 796.7,92.4 794.5,85.6 792.3,84.5 791.1,83.6 786.2,82.3 783.4,85.4 780.0,87.7 777.5,86.1 774.4,83.8 771.6,92.2 768.7,100.5 769.6,106.2 767.4,110.8 769.3,115.2 768.4,119.4 765.0,127.3 765.1,130.2 761.9,130.1 764.4,138.0 766.9,146.0 769.4,153.9 772.0,161.8 773.0,165.5 775.7,167.6 778.1,170.1Z" fill="#ed5b97" stroke="#ed5b97"/>
<path class="s" d="M745.1,185.0 750.6,183.8 756.0,182.7 761.3,181.5 766.6,180.4 771.9,179.2 772.4,178.2 775.1,175.1 777.5,174.3 777.9,175.6 781.6,177.5 778.5,181.0 777.4,185.1 779.3,185.1 782.2,186.3 784.5,190.7 787.0,193.4 790.4,193.7 793.7,191.2 792.1,189.2 789.4,186.8 792.3,186.8 794.9,190.8 795.5,195.7 791.2,195.3 786.5,198.2 784.5,194.7 782.6,198.2 780.3,200.8 778.4,198.0 776.0,196.4 774.8,194.3 774.2,192.1 768.4,193.6 762.6,195.0 756.8,196.3 751.0,197.6 745.1,198.9 745.1,191.9 745.1,185.0Z" fill="#7c103c" stroke="#7c103c"/>
<path class="s" d="M745.1,198.9 751.0,197.6 756.8,196.3 762.6,195.0 768.4,193.6 770.0,199.4 771.6,205.2 771.0,206.9 767.8,208.1 764.5,209.6 760.7,210.7 757.0,211.9 753.3,214.8 748.9,218.2 747.6,219.3 746.1,217.5 749.1,214.6 747.7,213.1 748.4,213.0 746.8,205.9 745.1,198.9Z" fill="#b91d52" stroke="#b91d52"/>
<path class="s" d="M768.4,193.6 774.2,192.1 774.8,194.3 776.0,196.4 778.4,198.0 780.3,200.8 779.4,201.9 777.6,200.6 775.9,197.0 774.9,197.3 776.5,201.9 776.0,204.8 771.0,206.9 771.6,205.2 770.0,199.4 768.4,193.6Z" fill="#b91d52" stroke="#b91d52"/></g>
<path class="b" d="M63.7,100.8 66.6,103.3 71.5,105.3 73.9,106.4 76.9,108.3 77.4,113.4 77.0,117.3 80.5,119.9 82.9,121.0 88.1,120.0 93.5,120.5 97.0,123.9 100.8,123.6 104.5,123.3 110.3,125.0 114.6,124.2 119.0,123.3 122.9,124.1 127.1,123.8 132.5,125.1 137.9,126.4 143.3,127.6 148.7,128.9 154.1,130.1 M165.1,74.1 163.3,82.0 161.5,89.9 159.7,97.9 157.9,105.8 156.1,113.8 154.3,121.7 154.1,130.1 M154.1,130.1 155.5,134.3 156.8,140.5 154.1,144.8 150.6,149.9 147.1,153.1 143.3,159.1 143.2,161.1 144.9,162.8 145.7,165.5 144.0,170.1 143.4,170.9 141.5,179.4 139.6,187.8 137.7,196.3 135.8,204.7 M37.8,178.8 44.1,180.7 50.5,182.6 56.8,184.5 63.1,186.3 69.5,188.1 75.9,189.8 82.3,191.6 88.6,193.2 95.0,194.9 M95.0,194.9 101.8,196.6 108.6,198.3 115.4,200.0 122.2,201.6 129.0,203.2 135.8,204.7 M135.8,204.7 142.7,206.3 149.6,207.8 156.4,209.2 163.3,210.6 170.2,212.0 177.2,213.3 M177.2,213.3 184.1,214.7 191.0,215.9 197.9,217.2 204.9,218.4 211.8,219.5 218.8,220.7 M95.0,194.9 92.6,204.2 90.2,213.6 87.8,222.9 85.4,232.3 83.0,241.6 80.6,251.0 85.8,259.6 91.2,268.2 96.6,276.7 102.1,285.3 107.6,293.8 113.3,302.3 119.0,310.7 124.8,319.2 130.7,327.6 136.6,336.0 142.7,344.4 M142.7,344.4 142.6,347.3 144.2,352.6 144.9,355.6 147.6,359.1 144.6,361.5 142.0,363.9 139.4,369.3 137.9,371.0 135.6,374.4 133.9,381.4 137.2,385.0 134.3,387.3 132.7,387.2 M142.7,344.4 144.2,341.3 144.2,332.9 144.9,324.7 150.5,323.3 155.9,323.3 157.4,315.8 158.8,308.2 M158.8,308.2 160.6,298.7 162.5,289.2 164.3,279.7 166.2,270.2 168.0,260.7 169.8,251.2 171.7,241.8 173.5,232.3 175.3,222.8 177.2,213.3 M158.8,308.2 165.6,309.4 172.4,310.7 179.1,311.9 185.9,313.1 192.7,314.3 199.5,315.4 206.3,316.5 213.1,317.5 219.9,318.5 226.7,319.5 233.6,320.5 M233.6,320.5 232.3,329.5 231.1,338.6 229.8,347.6 228.6,356.6 227.3,365.7 226.1,374.7 224.8,383.7 223.6,392.8 222.3,401.8 221.1,410.8 219.8,419.8 218.6,428.8 M244.0,243.9 242.7,253.5 241.4,263.0 240.1,272.6 238.8,282.2 237.5,291.8 236.2,301.3 234.9,310.9 233.6,320.5 M218.8,220.7 217.3,230.2 215.8,239.7 222.8,240.8 229.9,241.9 237.0,242.9 244.0,243.9 M226.2,173.7 224.7,183.1 223.3,192.5 221.8,201.9 220.3,211.3 218.8,220.7 M177.3,76.8 176.0,83.1 174.6,89.4 173.3,95.7 174.3,100.4 175.6,106.5 180.0,111.3 183.2,118.3 186.9,124.7 189.9,124.9 187.4,133.2 185.1,139.5 184.0,144.8 187.7,146.9 191.7,143.9 193.0,147.9 192.9,151.8 196.0,157.2 194.6,161.4 197.8,162.8 198.6,169.4 201.7,171.5 205.7,170.4 209.7,169.2 215.6,171.0 220.4,171.2 222.6,167.7 224.6,170.9 226.2,173.7 M226.2,173.7 227.0,168.7 227.8,163.7 234.5,164.7 241.2,165.7 247.9,166.7 254.5,167.7 261.2,168.6 267.9,169.4 274.6,170.3 281.3,171.1 288.0,171.8 294.8,172.6 301.5,173.2 308.2,173.9 314.9,174.5 321.7,175.1 M328.1,99.2 327.5,107.4 326.8,115.7 326.1,123.9 325.4,132.2 324.7,140.5 324.0,148.8 323.3,157.1 M323.3,157.1 322.5,166.1 321.7,175.1 M321.7,175.1 320.9,184.7 320.1,194.2 319.2,203.8 318.4,213.4 M318.4,213.4 317.6,223.0 316.8,232.6 316.0,242.2 315.2,251.8 M244.0,243.9 251.1,244.9 258.2,245.8 265.3,246.7 272.5,247.5 279.6,248.3 286.7,249.1 293.8,249.8 300.9,250.5 308.1,251.2 315.2,251.8 M315.2,251.8 320.9,252.3 326.6,252.7 332.4,253.2 338.1,253.6 343.8,253.9 343.2,263.6 342.6,273.2 M342.6,273.2 342.0,282.8 341.4,292.5 340.8,302.1 340.2,311.8 339.7,321.4 339.1,331.1 M233.6,320.5 240.5,321.4 247.5,322.3 254.5,323.2 261.5,324.1 268.5,324.9 275.5,325.6 282.5,326.4 289.5,327.1 296.5,327.7 303.5,328.4 310.5,329.0 317.5,329.6 324.6,330.1 M324.6,330.1 331.8,330.6 339.1,331.1 M324.6,330.1 323.9,339.7 M323.9,339.7 323.1,349.3 322.2,359.0 321.4,368.6 320.6,378.2 319.8,387.8 319.0,397.4 318.2,407.0 317.4,416.6 316.5,426.2 309.4,425.7 302.2,425.1 295.0,424.5 287.9,423.8 280.7,423.1 273.6,422.4 266.4,421.7 259.3,420.9 260.3,425.2 M323.3,157.1 329.9,157.7 336.6,158.2 343.2,158.7 349.8,159.1 356.5,159.5 363.1,159.9 369.8,160.3 376.4,160.6 383.0,160.8 389.7,161.1 396.3,161.3 403.0,161.5 409.6,161.6 416.3,161.7 422.9,161.8 M414.7,103.4 416.3,111.0 415.6,118.6 417.1,123.9 419.3,131.9 419.7,137.6 420.1,143.9 420.5,149.1 422.4,155.4 422.9,161.8 M422.9,161.8 422.1,164.4 419.2,167.8 421.0,171.6 424.3,173.9 424.3,182.6 424.3,191.2 424.2,199.8 424.2,208.5 M318.4,213.4 324.9,213.9 331.3,214.4 337.7,214.9 344.1,215.3 350.6,215.7 357.0,216.1 363.4,216.4 369.9,216.7 376.3,217.0 382.7,217.3 389.2,217.5 395.6,217.7 398.4,219.7 402.5,222.3 404.6,220.8 410.9,220.5 413.7,221.3 417.1,222.9 420.6,225.8 424.1,227.9 M424.2,208.5 422.4,209.4 423.2,213.3 422.6,216.2 424.1,219.1 421.6,223.3 423.4,225.8 424.1,227.9 M424.2,208.5 430.8,208.5 437.3,208.5 443.9,208.4 450.5,208.3 457.0,208.2 463.6,208.1 470.2,207.9 476.8,207.7 483.3,207.4 489.9,207.1 496.4,206.8 M424.1,227.9 425.5,233.5 426.9,237.4 429.0,243.2 429.0,246.1 431.4,251.6 432.1,256.7 432.6,262.8 433.7,264.8 M433.7,264.8 435.5,269.2 438.9,275.0 440.5,275.9 M342.6,273.2 349.6,273.6 356.6,274.0 363.5,274.4 370.5,274.7 377.5,275.0 384.5,275.2 391.5,275.4 398.5,275.6 405.5,275.8 412.5,275.9 419.5,275.9 426.5,276.0 433.5,276.0 440.5,275.9 M440.5,275.9 444.3,278.4 446.0,281.1 443.6,284.2 446.6,289.0 447.3,291.3 450.9,293.0 451.0,301.2 451.1,309.3 451.2,317.5 451.3,325.6 451.3,333.8 M339.1,331.1 346.5,331.5 354.0,331.9 361.5,332.3 369.0,332.7 376.5,333.0 384.0,333.2 391.4,333.4 398.9,333.6 406.4,333.8 413.9,333.9 421.4,333.9 428.9,334.0 436.4,333.9 443.9,333.9 451.3,333.8 M433.7,264.8 440.2,264.7 446.7,264.5 453.2,264.4 459.6,264.2 466.1,264.0 472.5,263.7 479.0,263.4 485.5,263.1 491.9,262.8 495.4,265.7 496.6,267.0 M323.9,339.7 331.5,340.3 339.1,340.8 346.7,341.2 354.3,341.6 361.9,342.0 369.5,342.4 369.1,351.7 368.7,361.1 368.3,370.4 367.9,379.8 372.5,383.4 376.4,383.2 380.3,384.7 384.1,387.3 389.6,388.4 393.5,388.9 397.5,389.0 399.7,393.9 404.5,392.1 407.6,395.2 411.5,396.6 415.5,392.8 421.0,395.1 424.9,397.7 428.9,395.2 433.6,394.8 438.4,394.2 444.7,393.2 450.2,396.6 454.5,398.6 M451.3,333.8 451.5,343.5 M451.5,343.5 452.6,350.6 453.7,357.7 454.7,364.8 454.7,373.3 454.6,381.7 454.6,390.2 454.5,398.6 M454.5,398.6 458.2,399.7 461.5,400.2 461.6,405.3 461.7,410.4 M461.7,410.4 461.9,417.0 462.0,423.7 462.1,430.3 465.9,437.7 469.6,445.3 470.9,449.1 468.3,456.8 468.1,462.6 468.2,467.4 466.2,471.3 466.2,474.1 M461.7,410.4 469.4,410.3 477.0,410.2 484.6,410.0 492.2,409.8 499.9,409.5 507.5,409.2 M451.5,343.5 459.1,343.3 466.6,343.2 474.2,342.9 481.8,342.7 489.3,342.4 496.9,342.1 504.4,341.7 512.0,341.3 519.6,340.8 517.6,345.8 516.6,350.7 521.8,350.4 527.1,350.0 M481.7,145.7 479.3,147.0 479.5,152.5 479.7,158.0 474.4,161.7 472.2,166.5 475.4,171.2 474.2,174.1 473.6,178.0 473.8,183.7 477.6,187.1 483.6,189.7 486.4,191.9 490.0,196.5 495.0,200.1 495.8,203.0 496.4,206.8 M496.4,206.8 496.9,210.6 497.9,215.4 498.8,220.6 501.7,222.9 505.5,225.4 M505.5,225.4 508.9,230.0 512.9,232.9 512.5,238.1 510.8,242.7 507.5,244.4 500.9,246.7 500.4,251.0 502.7,253.8 500.8,258.7 497.4,262.1 496.6,267.0 M496.6,267.0 495.6,270.5 497.0,275.7 498.0,280.1 502.9,284.7 507.8,288.3 509.2,292.1 512.2,293.5 516.3,295.0 516.6,299.8 514.6,308.2 519.3,312.2 522.8,313.5 527.9,318.4 528.1,324.8 530.2,328.5 534.4,330.5 M534.4,330.5 533.7,335.1 534.2,337.9 531.0,340.1 529.0,340.2 M529.0,340.2 528.2,344.2 527.1,350.0 M527.1,350.0 523.6,356.1 521.6,362.0 522.3,366.8 519.0,369.9 M519.0,369.9 517.0,374.9 515.2,379.8 510.7,387.8 507.7,390.8 508.5,392.7 506.4,397.7 507.4,401.5 507.5,409.2 M507.5,409.2 507.7,413.0 509.8,416.8 512.5,422.0 509.5,426.4 507.4,432.3 505.2,437.2 503.0,442.1 501.9,448.0 509.7,447.6 517.5,447.2 525.2,446.7 533.0,446.2 531.7,451.1 533.2,454.8 535.1,457.6 537.3,461.7 M505.5,225.4 512.2,225.1 518.8,224.7 525.4,224.3 532.0,223.9 538.7,223.4 545.3,222.9 M550.5,237.8 551.3,246.8 552.1,255.8 552.9,264.9 553.7,273.9 554.5,283.0 553.5,288.9 555.6,295.9 552.8,301.5 550.5,305.6 549.7,313.4 M549.7,313.4 548.3,315.5 548.1,320.0 543.6,322.3 544.7,326.5 542.3,328.0 540.2,326.8 534.9,326.6 534.4,330.5 M594.5,283.6 594.5,286.6 591.7,290.8 586.9,291.7 586.5,295.3 584.0,299.4 582.7,301.1 580.3,306.6 575.8,306.5 574.0,304.4 572.1,307.5 568.6,309.8 563.6,312.6 558.8,310.1 556.2,309.6 551.4,310.8 549.7,313.4 M628.8,292.4 628.3,291.3 624.4,288.0 622.1,287.3 618.0,290.0 611.3,290.3 604.3,288.3 601.5,283.8 599.2,283.1 594.5,283.6 M652.4,245.4 651.8,250.8 651.3,256.8 650.4,263.2 650.4,265.1 646.4,270.6 642.7,270.8 641.4,274.0 639.3,277.6 639.5,280.5 635.4,279.6 634.2,283.3 634.2,288.1 631.0,292.1 628.8,292.4 M594.5,283.6 593.6,275.3 592.7,267.0 591.7,258.7 590.8,250.4 589.9,242.1 588.9,233.8 M588.9,233.8 595.2,232.8 601.5,231.8 607.8,230.8 M560.3,235.7 566.0,235.1 571.7,234.5 577.4,233.9 583.1,233.3 588.8,232.6 588.9,233.8 M648.2,219.9 649.6,228.4 651.0,236.9 652.4,245.4 M529.0,340.2 536.4,339.7 543.8,339.1 551.2,338.5 550.9,335.1 556.8,334.7 562.8,334.3 568.8,333.9 574.7,333.5 582.3,332.9 589.9,332.2 597.5,331.6 604.2,330.9 610.8,330.2 617.5,329.5 M504.0,147.5 508.3,151.8 512.8,152.8 517.4,153.8 522.0,154.7 526.1,155.7 530.2,156.6 535.8,160.0 540.0,162.5 539.9,168.3 542.6,169.0 543.6,172.7 M657.8,212.6 658.7,217.8 665.5,216.6 672.3,215.3 679.1,214.1 685.8,212.8 692.6,211.4 699.4,210.1 706.1,208.7 712.9,207.2 719.6,205.8 721.4,207.9 725.6,212.3 728.3,214.7 731.5,215.7 M731.5,215.7 729.1,221.4 727.1,224.4 727.3,229.7 730.6,234.6 735.8,237.7 734.9,240.3 731.7,244.6 728.1,247.4 M731.5,215.7 737.8,217.8 744.2,219.9 M728.1,247.4 726.7,247.1 725.2,247.3 723.7,248.3 723.0,250.1 M723.0,250.1 716.4,251.5 709.8,252.8 703.3,254.2 696.7,255.5 690.0,256.8 683.4,258.0 676.8,259.2 670.2,260.4 M670.2,260.4 665.2,261.3 660.2,262.1 655.2,263.0 653.8,254.2 652.4,245.4 M723.0,250.1 725.2,257.9 727.3,265.7 729.5,273.6 734.2,272.6 738.9,271.7 M670.2,260.4 671.0,265.3 671.8,270.1 674.8,266.9 677.9,263.9 680.8,259.9 685.6,261.0 688.7,257.8 694.0,258.4 696.8,263.3 M696.8,263.3 700.9,266.9 704.9,268.0 707.0,269.0 708.7,271.2 708.4,274.2 706.3,278.6 710.2,279.2 712.1,281.4 717.6,282.2 722.1,283.4 M728.9,283.8 732.5,282.0 737.9,280.2 M696.8,263.3 696.0,267.0 691.7,265.1 687.5,263.2 687.0,268.6 686.1,271.7 682.2,276.9 680.3,276.7 679.3,279.8 677.2,284.7 674.0,283.7 671.5,282.5 670.4,288.8 668.7,294.4 666.2,302.1 665.5,304.8 661.9,305.9 657.8,309.0 652.6,311.9 648.4,312.4 645.9,313.8 641.4,309.5 640.6,307.9 M640.6,307.9 635.6,306.1 633.3,302.9 629.6,298.2 628.8,292.4 M617.5,329.5 621.5,326.5 625.5,323.5 628.4,322.2 631.5,316.8 636.3,313.2 640.6,307.9 M617.5,329.5 625.1,328.5 632.6,327.5 640.1,326.5 647.6,325.4 M647.6,325.4 654.9,324.4 662.2,323.3 669.5,322.1 676.8,320.9 684.0,319.7 691.3,318.5 698.6,317.2 705.8,315.9 713.1,314.5 720.3,313.1 727.5,311.7 734.8,310.2 M647.6,325.4 647.6,330.1 643.4,335.2 638.2,336.8 635.4,339.1 631.0,340.7 626.3,345.9 622.8,349.0 616.8,351.0 614.9,354.2 611.4,357.5 611.6,361.6 M591.8,364.0 598.4,363.2 605.0,362.4 611.6,361.6 M551.6,367.6 558.3,367.1 565.0,366.5 571.7,365.9 578.4,365.3 585.1,364.7 591.8,364.0 M519.0,369.9 525.5,369.5 532.1,369.1 538.6,368.6 545.1,368.1 551.6,367.6 M611.6,361.6 617.8,360.7 624.0,359.9 630.2,359.0 M630.2,359.0 635.8,356.2 641.4,353.5 648.1,352.8 654.8,352.1 661.5,351.4 661.9,353.3 663.5,352.1 666.6,357.0 672.3,356.2 678.0,355.4 683.7,354.6 690.5,359.6 697.4,364.5 704.3,369.5 M630.2,359.0 627.3,365.2 631.6,367.5 636.0,370.8 641.7,377.8 648.2,383.7 652.5,385.6 660.7,392.5 663.2,399.9 668.8,407.8 669.9,409.6 673.6,410.4 M591.8,364.0 594.0,372.0 596.2,379.9 598.5,387.9 600.7,395.8 603.0,403.8 606.9,412.4 607.0,420.2 606.4,422.2 608.0,428.8 609.0,434.0 610.0,439.2 M610.0,439.2 612.9,444.4 620.2,444.0 627.4,443.5 634.7,443.1 641.9,442.5 649.2,442.0 656.5,441.4 659.6,445.0 659.9,441.3 659.0,436.9 664.2,436.7 668.4,436.7 M610.0,439.2 603.0,440.0 595.9,440.7 588.9,441.5 581.8,442.2 574.8,442.9 567.7,443.5 568.0,446.4 571.7,450.9 571.3,455.7 570.2,457.2 M551.6,367.6 553.3,369.4 553.1,379.1 553.0,388.8 552.8,398.4 552.6,408.1 552.4,417.8 552.2,427.5 553.0,434.7 553.9,442.0 554.8,449.2 555.6,456.5 M733.6,143.1 735.3,150.2 737.1,157.3 738.2,163.2 739.3,169.2 741.0,169.2 743.0,177.1 745.1,185.0 M745.1,185.0 745.1,191.9 745.1,198.9 M745.1,198.9 746.8,205.9 748.4,213.0 747.7,213.1 749.1,214.6 746.1,217.5 747.6,219.3 M757.9,137.0 758.6,141.8 759.4,146.7 758.2,149.0 754.1,152.0 754.8,154.8 753.6,164.0 753.9,170.9 754.3,175.2 754.3,180.7 756.0,182.7 M745.1,185.0 750.6,183.8 756.0,182.7 M756.0,182.7 761.3,181.5 766.6,180.4 771.9,179.2 772.4,178.2 775.1,175.1 777.5,174.3 M778.1,170.1 775.7,167.6 773.0,165.5 772.0,161.8 769.4,153.9 766.9,146.0 764.4,138.0 761.9,130.1 M745.1,198.9 751.0,197.6 756.8,196.3 762.6,195.0 768.4,193.6 M768.4,193.6 774.2,192.1 774.8,194.3 776.0,196.4 778.4,198.0 780.3,200.8 M768.4,193.6 770.0,199.4 771.6,205.2 771.0,206.9"/>
<path class="s" d="M97.8,435.3 103.0,436.6 108.1,438.5 114.5,440.1 121.0,439.8 128.7,440.1 137.5,439.6 156.5,508.2 161.0,509.5 165.0,510.2 170.0,510.8 174.0,508.0 176.5,506.0 180.0,505.5 185.0,509.0 190.0,512.3 194.0,515.5 198.0,519.5 203.0,521.3 207.5,522.5 212.0,526.2 212.3,529.0 211.0,531.5 208.0,534.0 205.0,535.5 201.5,534.5 199.0,531.0 196.2,528.8 192.0,526.8 188.0,524.5 183.8,521.3 180.5,518.0 177.5,515.0 173.0,513.6 169.0,513.0 165.0,512.3 160.5,511.2 156.5,510.0 152.4,509.5 145.1,510.8 141.0,512.3 137.9,512.8 135.0,511.2 132.7,512.0 129.6,515.7 127.0,518.7 124.4,520.9 121.5,522.6 119.2,523.0 120.3,520.0 122.3,516.8 123.5,513.5 124.4,510.5 122.8,509.3 121.3,509.8 119.3,512.5 117.1,515.7 114.5,521.0 111.9,526.1 107.8,532.3 102.6,539.6 96.4,545.8 89.1,552.0 80.8,556.8 71.5,561.3 62.2,566.5 55.5,569.2 51.8,570.3 48.7,569.6 53.9,567.4 62.2,564.2 70.5,559.3 78.8,555.1 85.0,551.0 91.2,545.8 96.4,539.6 98.5,534.0 99.5,529.4 96.0,530.8 92.2,531.3 87.0,530.6 82.9,529.2 81.9,524.0 81.5,520.5 79.8,517.8 76.0,516.4 72.6,513.7 69.5,510.5 67.6,507.4 68.5,504.5 71.7,502.7 74.1,498.7 78.0,494.7 82.0,492.4 85.2,488.4 86.3,485.5 86.0,484.4 81.2,482.8 76.0,483.6 70.9,483.6 69.8,481.2 69.3,479.7 66.8,477.5 65.4,474.9 70.0,473.7 75.7,472.5 77.2,470.2 80.0,468.6 82.0,467.0 80.5,464.5 78.0,463.0 75.0,461.0 72.5,459.1 71.2,456.5 70.9,454.3 74.1,453.5 78.0,449.6 82.8,444.0 86.5,441.0 90.7,438.5 94.0,436.6Z M111.2,541.8 112.2,538.5 114.2,535.6 116.5,533.0 118.4,532.2 118.8,534.2 117.2,537.2 115.5,540.0 113.2,542.2Z M48.5,489.2 51.0,489.5 53.5,491.0 56.3,492.2 55.5,493.3 52.5,492.4 49.5,491.0Z M62.5,516.6 64.5,516.0 66.2,517.0 65.6,518.6 63.4,518.8Z M44.0,570.6 46.5,570.0 47.5,571.0 45.0,571.8Z M33.5,573.0 36.5,572.6 37.2,573.6 34.2,574.2Z M21.5,572.2 24.2,572.2 24.5,573.3 21.8,573.4Z M10.0,571.5 12.6,571.7 12.8,572.8 10.2,572.7Z M5.0,569.0 7.4,569.3 7.4,570.4 5.0,570.2Z M242.0,519.0 241.5,519.9 240.5,519.9 240.0,519.0 240.5,518.1 241.5,518.1Z M255.1,515.5 254.5,517.5 252.8,518.7 250.6,518.7 248.9,517.5 248.3,515.5 248.9,513.5 250.6,512.3 252.8,512.3 254.5,513.5Z M275.2,524.1 277.0,522.6 279.0,522.0 280.8,522.8 282.2,524.3 284.0,526.2 285.6,528.1 283.4,528.4 281.2,528.1 279.0,527.8 276.8,527.1Z M292.2,530.1 295.0,529.7 299.0,530.2 302.4,530.6 302.2,531.6 298.0,531.5 294.0,531.4 292.3,531.2Z M300.1,535.9 299.6,536.9 298.5,537.2 297.6,536.5 297.6,535.3 298.5,534.6 299.6,534.9Z M303.9,534.2 305.8,533.7 307.6,534.4 308.7,535.7 309.8,536.6 311.5,535.5 313.4,535.1 315.0,536.0 316.3,537.3 315.2,539.0 313.4,540.2 311.5,540.2 309.8,539.5 307.8,538.2 306.1,536.6 304.6,535.6Z M306.3,541.7 305.8,542.5 304.9,542.5 304.5,541.7 304.9,540.9 305.8,540.9Z M319.3,546.8 321.5,547.6 323.7,549.0 327.5,550.0 331.0,551.2 333.4,553.2 335.4,555.6 337.0,557.3 338.3,559.3 336.6,561.3 334.6,562.9 332.0,564.2 329.5,565.1 327.2,567.8 325.1,570.2 323.0,570.0 321.5,568.8 321.2,565.8 320.7,562.9 318.8,560.0 317.1,557.1 317.6,554.0 318.5,551.2 318.7,548.8Z" fill="#f19dc3" stroke="#f19dc3"/>
<path class="s" d="M55.9,344.7 55.5,345.2 54.8,345.3 53.9,345.2 53.3,344.8 53.1,344.3 53.5,343.8 54.2,343.7 55.1,343.8 55.7,344.2Z M63.1,345.3 62.5,345.7 61.2,345.8 59.6,345.5 58.4,345.1 57.9,344.5 58.5,344.1 59.8,344.0 61.4,344.3 62.6,344.7Z M78.4,363.5 77.7,363.4 76.7,362.6 75.9,361.4 75.5,360.2 75.6,359.5 76.3,359.6 77.3,360.4 78.1,361.6 78.5,362.8Z M75.8,372.5 75.2,372.3 74.3,371.5 73.6,370.3 73.2,369.2 73.4,368.5 74.0,368.7 74.9,369.5 75.6,370.7 76.0,371.8Z" fill="#7c103c" stroke="#7c103c"/>
<path d="M693.5,546.8 691.0,548.6 688.0,550.2 685.0,551.4 682.3,552.0 682.5,551.0 685.0,550.2 688.0,549.0 690.6,547.4 693.0,546.0Z" fill="#f19dc3"/>
<circle cx="708" cy="268.5" r="3.7" fill="#f9dbe8" stroke="#5b1d3f" stroke-width=".9"/>
<path d="M517.8,122.6 520.5,120.0 523.5,117.8 526.8,115.8 527.7,116.5 525.0,118.7 522.0,121.0 519.0,123.3Z" fill="#7c103c"/>
<path d="M788.8,200.6 788.4,201.3 787.4,201.7 786.4,201.6 785.8,201.2 786.2,200.5 787.2,200.1 788.2,200.2Z M796.9,201.0 796.5,201.5 795.5,201.6 794.6,201.3 794.3,200.8 794.7,200.3 795.7,200.2 796.6,200.5Z" fill="#7c103c"/>
<path d="M88.8,62.1 88.2,62.6 87.1,62.5 86.2,61.9 86.0,61.1 86.6,60.6 87.7,60.7 88.6,61.3Z M89.9,68.6 89.5,70.1 89.0,70.7 88.7,70.0 88.7,68.4 89.1,66.9 89.6,66.3 89.9,67.0Z" fill="#320b26"/>
<path d="M740.3,319.3 733.9,319.7 727.9,321.7 724.3,324.3 728.9,325.1 734.9,323.7 740.6,322.5Z M743.0,329.8 737.9,328.7 733.9,331.7 730.9,336.7 728.9,342.7 729.7,347.3 733.9,345.1 737.9,340.1 742.3,336.1 743.6,332.5Z" fill="#fff"/>
</svg>
<ul class="lg">
<li><i style="background:#f19dc3"></i>&lt;3.5%</li>
<li><i style="background:#ed5b97"></i>3.5<b>–</b>3.<span class="ov">9</span>%</li>
<li><i style="background:#b91d52"></i>4.0<b>–</b>4.4<span class="ov">9</span>%</li>
<li><i style="background:#7c103c"></i>4.5<b>–</b>4.<span class="ov">9</span>%</li>
<li><i style="background:#320b26"></i>5.0%&gt;</li>
</ul>
</body></html>
